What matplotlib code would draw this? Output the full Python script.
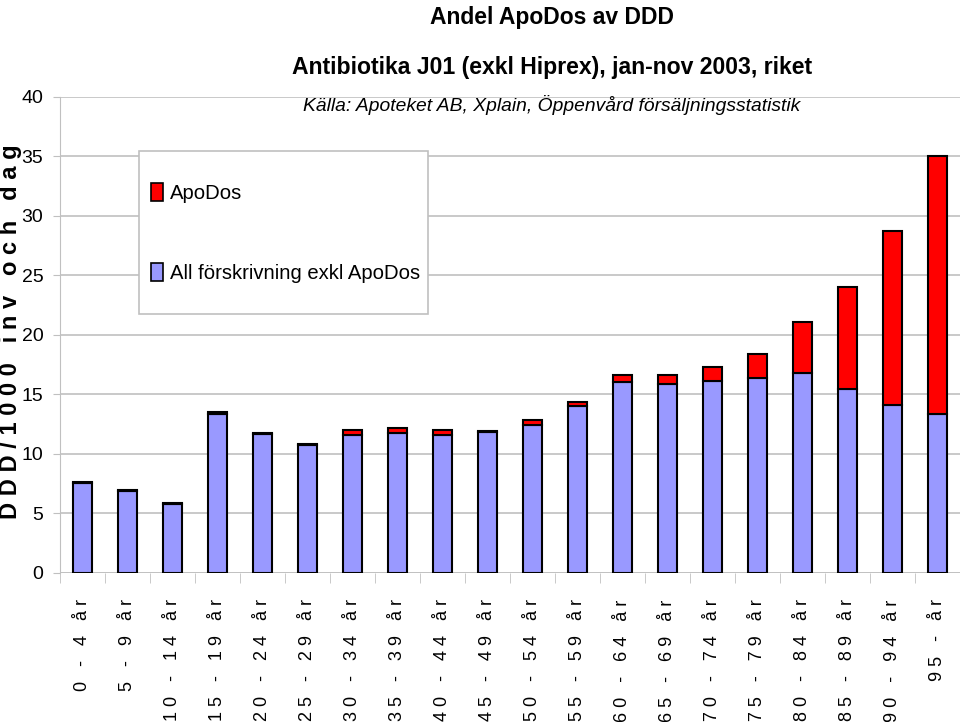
import numpy as np
import matplotlib
matplotlib.use('Agg')
import matplotlib.pyplot as plt
from matplotlib.patches import Patch, Rectangle

# data
age_groups = ['0 - 4 år', '5 - 9 år', '10 - 14 år', '15 - 19 år', '20 - 24 år',
              '25 - 29 år', '30 - 34 år', '35 - 39 år', '40 - 44 år', '45 - 49 år',
              '50 - 54 år', '55 - 59 år', '60 - 64 år', '65 - 69 år', '70 - 74 år',
              '75 - 79 år', '80 - 84 år', '85 - 89 år', '90 - 94 år', '95 - år']
ovrigt = [7.55, 6.9, 5.8, 13.4, 11.65, 10.75, 11.6, 11.8, 11.6, 11.85,
          12.4, 14.0, 16.05, 15.85, 16.1, 16.35, 16.8, 15.45, 14.1, 13.4]
apodos = [0.12, 0.1, 0.08, 0.15, 0.1, 0.1, 0.38, 0.42, 0.38, 0.1,
          0.45, 0.37, 0.56, 0.76, 1.18, 2.05, 4.3, 8.6, 14.65, 21.6]

font = ['Liberation Sans', 'DejaVu Sans']
red = '#ff0000'
blue = '#9999ff'
grid_c = '#c0c0c0'

fig = plt.figure(figsize=(9.6, 7.22), dpi=100)
ax = fig.add_axes([0.0625, 0.2064, 0.9375, 0.6593])

x = np.arange(len(age_groups))
ax.bar(x, ovrigt, width=0.42, color=blue, edgecolor='black', linewidth=1.5, zorder=3)
ax.bar(x, apodos, width=0.42, bottom=ovrigt, color=red, edgecolor='black',
       linewidth=1.5, zorder=3)

ax.set_xlim(-0.5, len(age_groups) - 0.5)
ax.set_ylim(0, 40)
ax.set_yticks(range(0, 41, 5))
ax.yaxis.grid(True, color=grid_c, linewidth=1.2, zorder=0)
for s in ['top', 'right', 'bottom']:
    ax.spines[s].set_visible(False)
ax.spines['left'].set_color(grid_c)
ax.axhline(0, color=grid_c, linewidth=1.2, zorder=1)

ax.tick_params(axis='y', length=5, color=grid_c, pad=7)
for t in ax.get_yticklabels():
    t.set_family(font)
    t.set_fontsize(14)

ax.set_xticks(x)
ax.set_xticklabels([' '.join(s) for s in age_groups], rotation=90, va='top',
                   ha='center', family=font, fontsize=13)
ax.tick_params(axis='x', length=0, pad=19)
ax.set_xticks(np.arange(-0.5, len(age_groups), 1), minor=True)
ax.tick_params(axis='x', which='minor', length=7, color=grid_c)

fig.text(0.0105, 0.54, ' '.join('DDD/1000 inv och dag'), rotation=90, ha='center',
         va='center', fontsize=17, fontweight='bold', family=font)

fig.text(0.575, 0.976, 'Andel ApoDos av DDD', ha='center', va='center',
         fontsize=16.5, fontweight='bold', family=font)
fig.text(0.575, 0.907, 'Antibiotika J01 (exkl Hiprex), jan-nov 2003, riket',
         ha='center', va='center', fontsize=16.6, fontweight='bold', family=font)
fig.text(0.575, 0.855, 'Källa: Apoteket AB, Xplain, Öppenvård försäljningsstatistik',
         ha='center', va='center', fontsize=13.9, style='italic', family=font)

# legend box
fig.add_artist(Rectangle((139 / 960, 1 - 314 / 722), 289 / 960, 163 / 722,
                         transform=fig.transFigure, facecolor='white',
                         edgecolor=grid_c, linewidth=1.2, zorder=2))
handles = [Patch(facecolor=red, edgecolor='black', linewidth=1.2),
           Patch(facecolor=blue, edgecolor='black', linewidth=1.2)]
fig.legend(handles, ['ApoDos', 'All förskrivning exkl ApoDos'],
           loc='upper left', bbox_to_anchor=(151 / 960, 1 - 183 / 722),
           borderaxespad=0, borderpad=0, frameon=False,
           handlelength=0.6, handleheight=1.0, handletextpad=0.35,
           labelspacing=2.95, prop={'family': font, 'size': 14.6})

fig.savefig('out.png', dpi=100)
